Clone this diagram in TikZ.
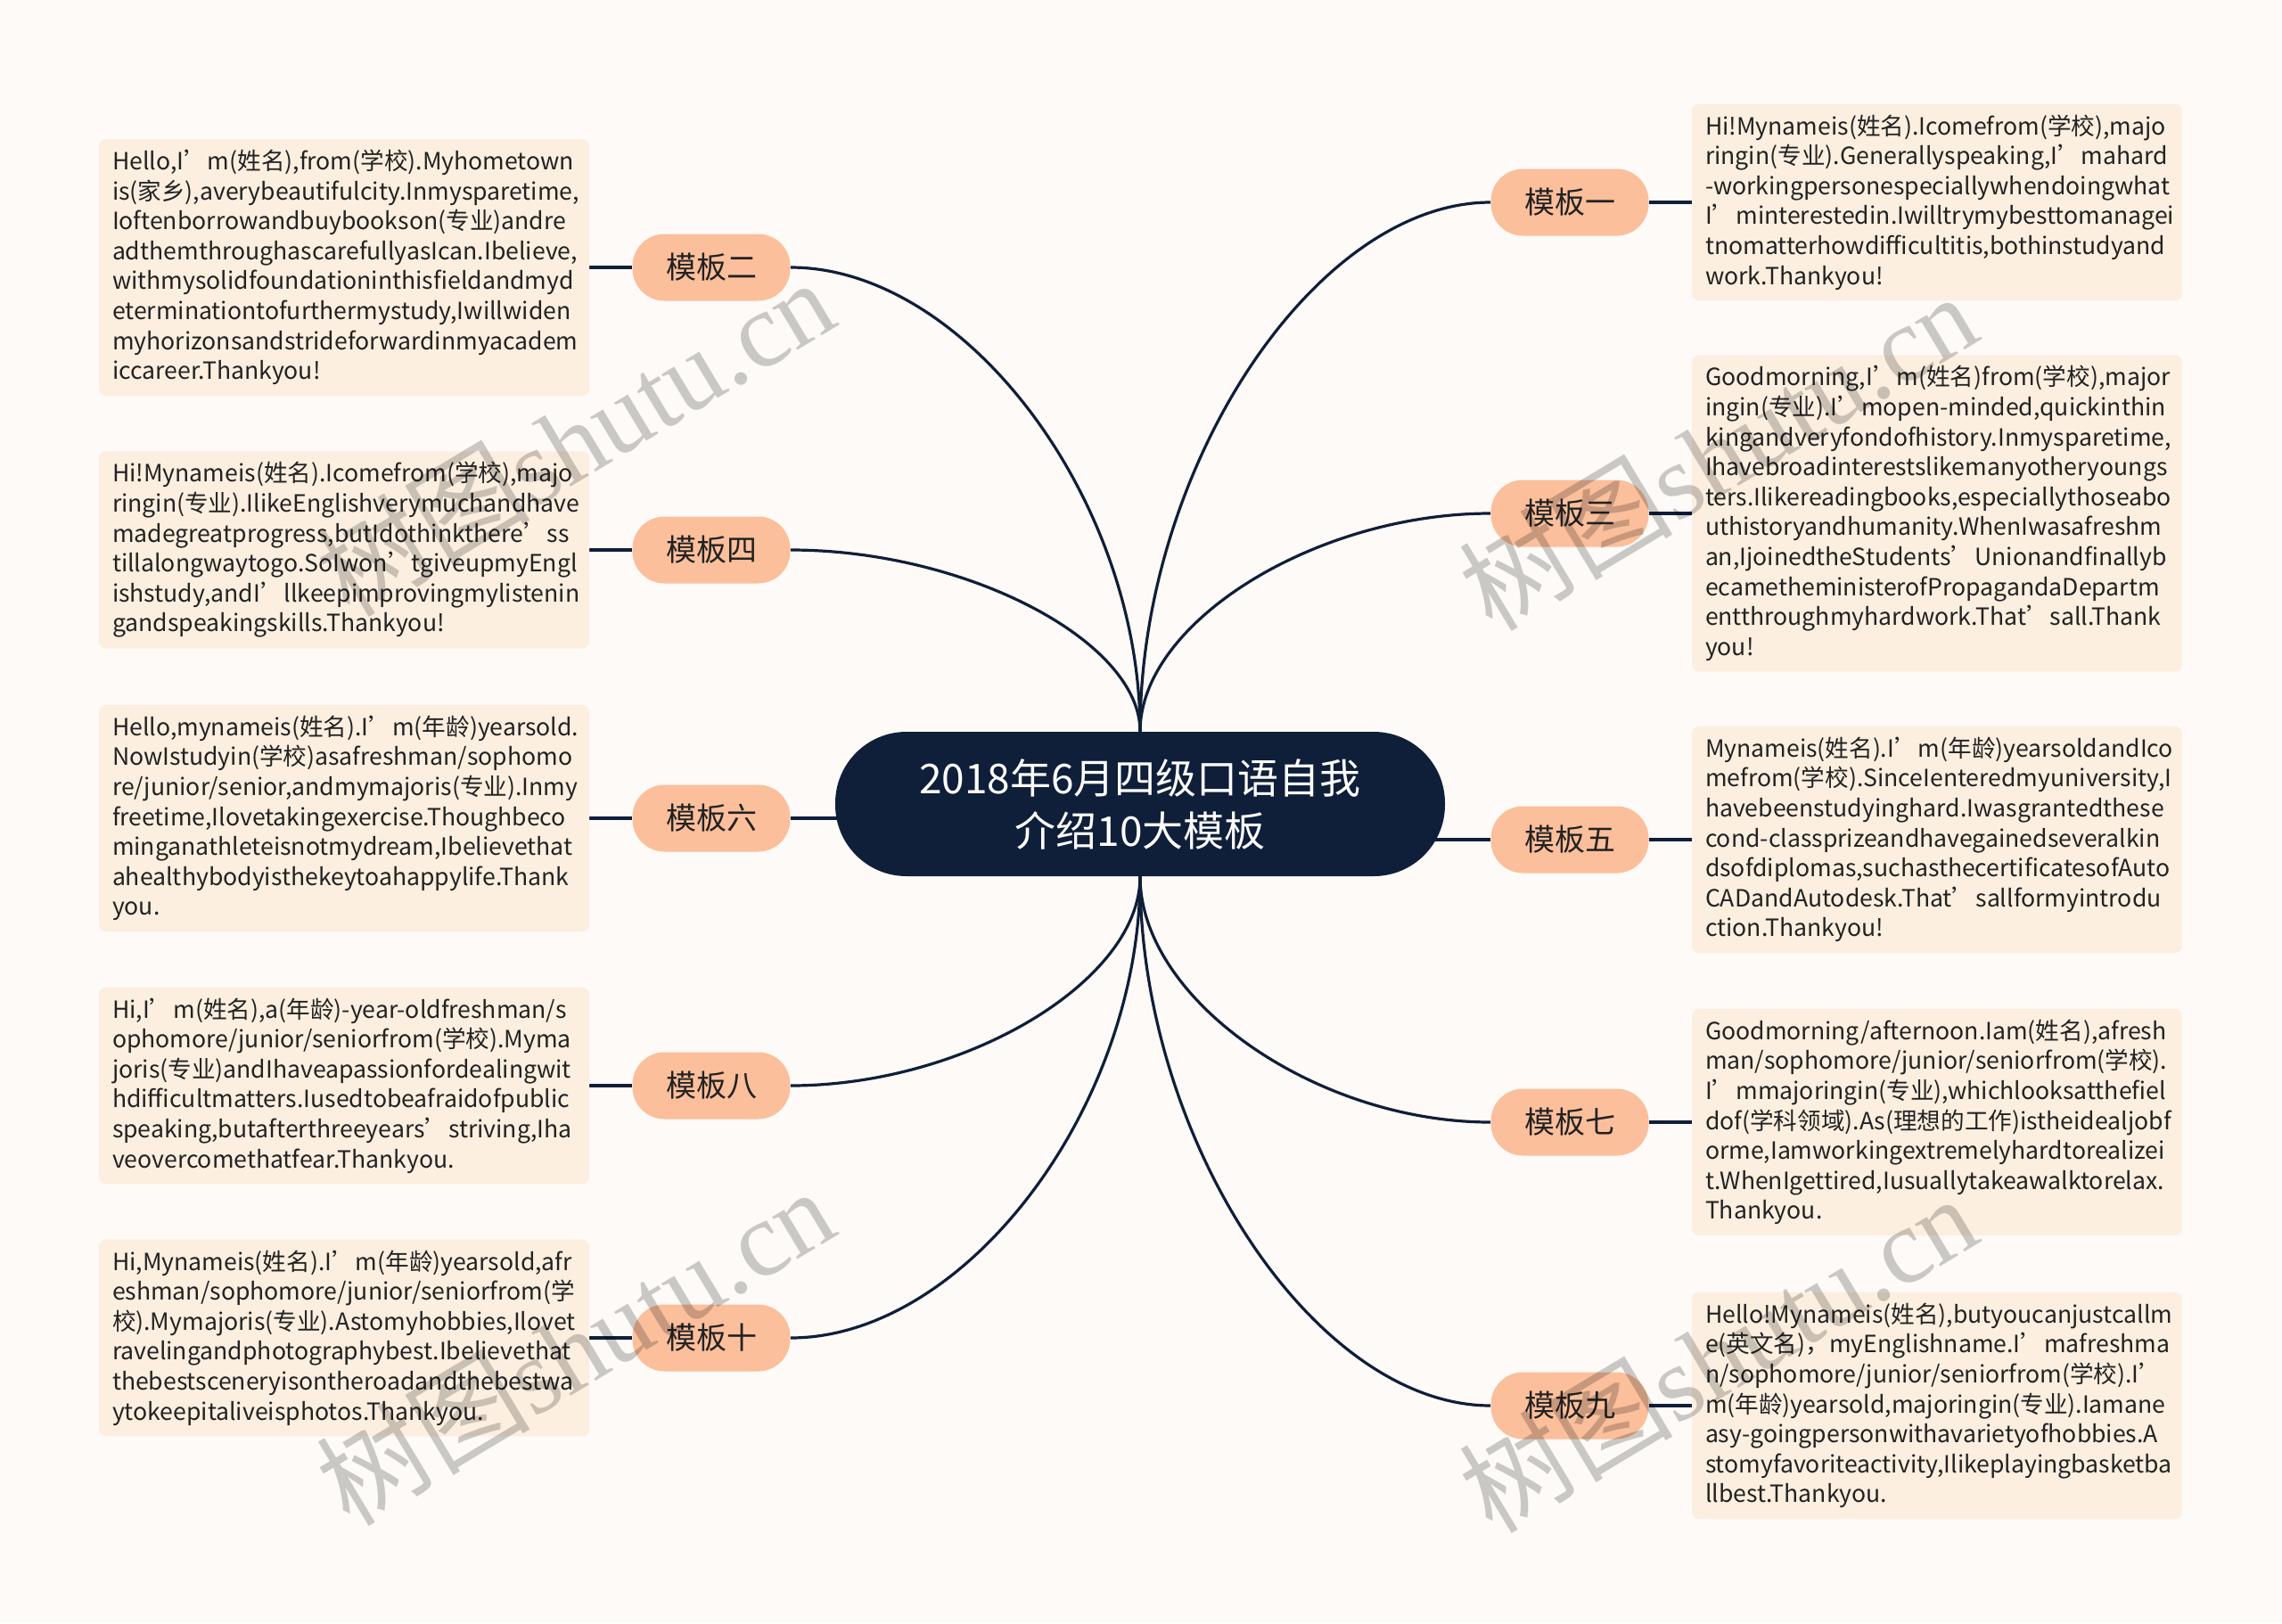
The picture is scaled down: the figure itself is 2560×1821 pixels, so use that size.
\documentclass[tikz,border=0pt]{standalone}
\usepackage{fontspec}
\setmainfont{Noto Sans CJK SC}
\newfontfamily\wmserif{Liberation Serif}
\usetikzlibrary{backgrounds,calc}
\definecolor{bgc}{HTML}{FDFAF7}
\definecolor{boxc}{HTML}{FCEFE0}
\definecolor{branchc}{HTML}{FBBF9B}
\definecolor{rootc}{HTML}{0F1F3A}
\definecolor{linec}{HTML}{0F1F3A}
\definecolor{textc}{HTML}{222222}
\exhyphenpenalty=10000
\hyphenpenalty=10000
\newcommand\nobreakhyph{\exhyphenpenalty=10000\relax\hyphenpenalty=10000\relax}
\tikzset{
  link/.style={draw=linec, line width=1.6pt},
  branch/.style={fill=branchc, rounded corners=18pt, minimum width=88.5pt, minimum height=37.5pt, inner sep=0pt, font=\fontsize{17pt}{20pt}\selectfont, text=textc},
  infobox/.style={fill=boxc, rounded corners=4pt, text width=260pt, inner xsep=7.5pt, inner ysep=6pt, align=left, font=\fontsize{13.3pt}{16.8pt}\selectfont, text=textc},
  central/.style={fill=rootc, rounded corners=40pt, minimum width=342pt, minimum height=81pt, text=white, align=center, font=\fontsize{23pt}{29.5pt}\selectfont},
  wm/.style={text=black, text opacity=0.2, font=\fontsize{60pt}{60pt}\selectfont, rotate=31},
}
\newcommand\curveup[2]{\draw[link] (#1) .. controls ($(#1)!0.5!(#1 |- #2)$) and ($(#2)!0.5!(#1 |- #2)$) .. (#2);}
\begin{document}
\begin{tikzpicture}[x=0.5pt,y=-0.5pt]
\useasboundingbox (0,0) rectangle (2560,1821);
% central
\node[central] (root) at (1279,902) {2018年6月四级口语自我\\介绍10大模板};
% branches left
\node[branch] (b2) at (798,300) {模板二};
\node[branch] (b4) at (798,617) {模板四};
\node[branch] (b6) at (798,918) {模板六};
\node[branch] (b8) at (798,1218) {模板八};
\node[branch] (b10) at (798,1501) {模板十};
% branches right
\node[branch] (b1) at (1761,227) {模板一};
\node[branch] (b3) at (1761,576) {模板三};
\node[branch] (b5) at (1761,942) {模板五};
\node[branch] (b7) at (1761,1259) {模板七};
\node[branch] (b9) at (1761,1577) {模板九};
% text boxes left
\node[infobox] (t2) at (386,300) {\nobreakhyph Hello,I’m(姓名),from(学校).Myhometown\\is(家乡),averybeautifulcity.Inmysparetime,\\Ioftenborrowandbuybookson(专业)andre\\adthemthroughascarefullyasIcan.Ibelieve,\\withmysolidfoundationinthisfieldandmyd\\eterminationtofurthermystudy,Iwillwiden\\myhorizonsandstrideforwardinmyacadem\\iccareer.Thankyou!};
\node[infobox] (t4) at (386,617) {\nobreakhyph Hi!Mynameis(姓名).Icomefrom(学校),majo\\ringin(专业).IlikeEnglishverymuchandhave\\madegreatprogress,butIdothinkthere’ss\\tillalongwaytogo.SoIwon’tgiveupmyEngl\\ishstudy,andI’llkeepimprovingmylistenin\\gandspeakingskills.Thankyou!};
\node[infobox] (t6) at (386,918) {\nobreakhyph Hello,mynameis(姓名).I’m(年龄)yearsold.\\NowIstudyin(学校)asafreshman/sophomo\\re/junior/senior,andmymajoris(专业).Inmy\\freetime,Ilovetakingexercise.Thoughbeco\\minganathleteisnotmydream,Ibelievethat\\ahealthybodyisthekeytoahappylife.Thank\\you.};
\node[infobox] (t8) at (386,1218) {\nobreakhyph Hi,I’m(姓名),a(年龄)-year-oldfreshman/s\\ophomore/junior/seniorfrom(学校).Myma\\joris(专业)andIhaveapassionfordealingwit\\hdifficultmatters.Iusedtobeafraidofpublic\\speaking,butafterthreeyears’striving,Iha\\veovercomethatfear.Thankyou.};
\node[infobox] (t10) at (386,1501) {\nobreakhyph Hi,Mynameis(姓名).I’m(年龄)yearsold,afr\\eshman/sophomore/junior/seniorfrom(学\\校).Mymajoris(专业).Astomyhobbies,Ilovet\\ravelingandphotographybest.Ibelievethat\\thebestsceneryisontheroadandthebestwa\\ytokeepitaliveisphotos.Thankyou.};
% text boxes right
\node[infobox] (t1) at (2173,227) {\nobreakhyph Hi!Mynameis(姓名).Icomefrom(学校),majo\\ringin(专业).Generallyspeaking,I’mahard\\-workingpersonespeciallywhendoingwhat\\I’minterestedin.Iwilltrymybesttomanagei\\tnomatterhowdifficultitis,bothinstudyand\\work.Thankyou!};
\node[infobox] (t3) at (2173,576) {\nobreakhyph Goodmorning,I’m(姓名)from(学校),major\\ingin(专业).I’mopen-minded,quickinthin\\kingandveryfondofhistory.Inmysparetime,\\Ihavebroadinterestslikemanyotheryoungs\\ters.Ilikereadingbooks,especiallythoseabo\\uthistoryandhumanity.WhenIwasafreshm\\an,IjoinedtheStudents’Unionandfinallyb\\ecametheministerofPropagandaDepartm\\entthroughmyhardwork.That’sall.Thank\\you!};
\node[infobox] (t5) at (2173,942) {\nobreakhyph Mynameis(姓名).I’m(年龄)yearsoldandIco\\mefrom(学校).SinceIenteredmyuniversity,I\\havebeenstudyinghard.Iwasgrantedthese\\cond-classprizeandhavegainedseveralkin\\dsofdiplomas,suchasthecertificatesofAuto\\CADandAutodesk.That’sallformyintrodu\\ction.Thankyou!};
\node[infobox] (t7) at (2173,1259) {\nobreakhyph Goodmorning/afternoon.Iam(姓名),afresh\\man/sophomore/junior/seniorfrom(学校).\\I’mmajoringin(专业),whichlooksatthefiel\\dof(学科领域).As(理想的工作)istheidealjobf\\orme,Iamworkingextremelyhardtorealizei\\t.WhenIgettired,Iusuallytakeawalktorelax.\\Thankyou.};
\node[infobox] (t9) at (2173,1577) {\nobreakhyph Hello!Mynameis(姓名),butyoucanjustcallm\\e(英文名)，myEnglishname.I’mafreshma\\n/sophomore/junior/seniorfrom(学校).I’\\m(年龄)yearsold,majoringin(专业).Iamane\\asy-goingpersonwithavarietyofhobbies.A\\stomyfavoriteactivity,Ilikeplayingbasketba\\llbest.Thankyou.};
% connectors
\begin{scope}[on background layer]
\fill[bgc] (0,0) rectangle (2560,1821);
\curveup{root.north}{b1.west}
\curveup{root.north}{b3.west}
\curveup{root.north}{b2.east}
\curveup{root.north}{b4.east}
\curveup{root.south}{b7.west}
\curveup{root.south}{b9.west}
\curveup{root.south}{b8.east}
\curveup{root.south}{b10.east}
% straight
\draw[link] (b6.east) -- (b6.east -| root.center);
\draw[link] (b5.west) -- (b5.west -| root.center);
% node to box
\draw[link] (b1.east) -- (t1.west);
\draw[link] (b3.east) -- (t3.west);
\draw[link] (b5.east) -- (t5.west);
\draw[link] (b7.east) -- (t7.west);
\draw[link] (b9.east) -- (t9.west);
\draw[link] (b2.west) -- (t2.east);
\draw[link] (b4.west) -- (t4.east);
\draw[link] (b6.west) -- (t6.east);
\draw[link] (b8.west) -- (t8.east);
\draw[link] (b10.west) -- (t10.east);
\end{scope}
% watermarks
\node[wm] (w1) at (645,490) {树图{\wmserif shutu.cn}};
\node[wm] (w2) at (1927,506) {树图{\wmserif shutu.cn}};
\node[wm] (w3) at (645,1510) {树图{\wmserif shutu.cn}};
\node[wm] (w4) at (1927,1518) {树图{\wmserif shutu.cn}};
\end{tikzpicture}
\end{document}
